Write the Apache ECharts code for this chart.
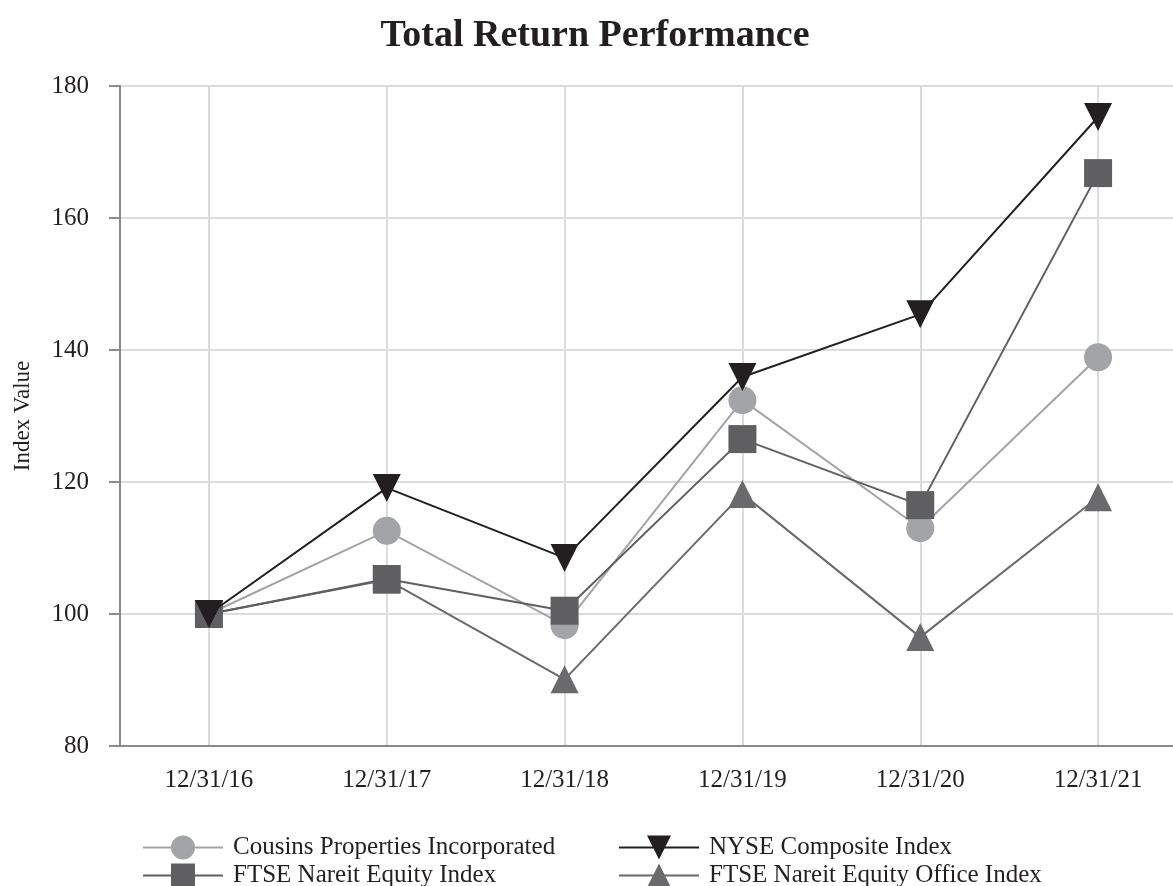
<!DOCTYPE html>
<html>
<head>
<meta charset="utf-8">
<title>Total Return Performance</title>
<script src="https://cdn.jsdelivr.net/npm/echarts@6/dist/echarts.min.js"></script>
<style>
  html, body { margin: 0; padding: 0; background: #fff; }
  #chart { width: 1173px; height: 886px; }
</style>
</head>
<body>
<div id="chart"></div>
<script>
// data
var years = ['12/31/16', '12/31/17', '12/31/18', '12/31/19', '12/31/20', '12/31/21'];
var cousins = [100, 112.6, 98.3, 132.4, 113.0, 138.9];
var nyse = [100, 119.1, 108.5, 135.9, 145.4, 175.3];
var nareit = [100, 105.3, 100.5, 126.5, 116.5, 166.8];
var office = [100, 105.2, 90.1, 118.2, 96.5, 117.7];
var yTicks = [80, 100, 120, 140, 160, 180];

var serif = '"Liberation Serif", "DejaVu Serif", serif';

var chart = echarts.init(document.getElementById('chart'));

function line(name, data, color, symbol, size, z, rotate) {
  return {
    name: name,
    type: 'line',
    data: data,
    symbol: symbol,
    symbolSize: size,
    symbolRotate: rotate || 0,
    z: z,
    lineStyle: { color: color, width: 2 },
    itemStyle: { color: color },
    animation: false
  };
}

// one legend per entry so the 2x2 layout is fixed
function legendItem(name, left, top) {
  return {
    left: left,
    top: top,
    itemWidth: 80,
    itemHeight: 30,
    data: [name],
    textStyle: { fontFamily: serif, fontSize: 25, color: '#231f20', padding: [0, 0, 0, 5] }
  };
}

var option = {
  backgroundColor: '#fff',
  title: {
    text: 'Total Return Performance',
    left: 590,
    top: 12,
    textAlign: 'center',
    textStyle: { fontFamily: serif, fontWeight: 'bold', fontSize: 38, color: '#231f20' }
  },
  grid: { left: 120, top: 86, height: 660, width: 1067, outerBoundsMode: 'none', containLabel: false },
  xAxis: {
    type: 'category',
    data: years,
    boundaryGap: true,
    axisLine: { lineStyle: { color: '#8a8a8a', width: 2 } },
    axisTick: { alignWithLabel: true, length: 11, lineStyle: { color: '#8a8a8a', width: 2 } },
    axisLabel: { margin: 22, fontFamily: serif, fontSize: 25, color: '#231f20' },
    splitLine: { show: true, alignWithLabel: true, lineStyle: { color: '#dcdcdc', width: 2 } }
  },
  yAxis: {
    type: 'value',
    min: yTicks[0],
    max: yTicks[yTicks.length - 1],
    interval: 20,
    name: 'Index Value',
    nameLocation: 'middle',
    nameRotate: 90,
    nameGap: 86,
    nameTextStyle: { fontFamily: serif, fontSize: 23, color: '#231f20' },
    axisLine: { show: true, lineStyle: { color: '#8a8a8a', width: 2 } },
    axisTick: { show: true, length: 11, lineStyle: { color: '#8a8a8a', width: 2 } },
    axisLabel: { margin: 31, fontFamily: serif, fontSize: 25, color: '#231f20' },
    splitLine: { lineStyle: { color: '#dcdcdc', width: 2 } }
  },
  legend: [
    legendItem('Cousins Properties Incorporated', 137, 830),
    legendItem('FTSE Nareit Equity Index', 137, 858),
    legendItem('NYSE Composite Index', 613, 830),
    legendItem('FTSE Nareit Equity Office Index', 613, 858)
  ],
  series: [
    line('FTSE Nareit Equity Office Index', office, '#6a6a6c', 'triangle', 28, 2),
    line('Cousins Properties Incorporated', cousins, '#a3a4a8', 'circle', 28, 3),
    line('FTSE Nareit Equity Index', nareit, '#5f5f61', 'rect', 28, 4),
    line('NYSE Composite Index', nyse, '#231f20', 'triangle', 28, 5, 180)
  ]
};

chart.setOption(option);
</script>
</body>
</html>
